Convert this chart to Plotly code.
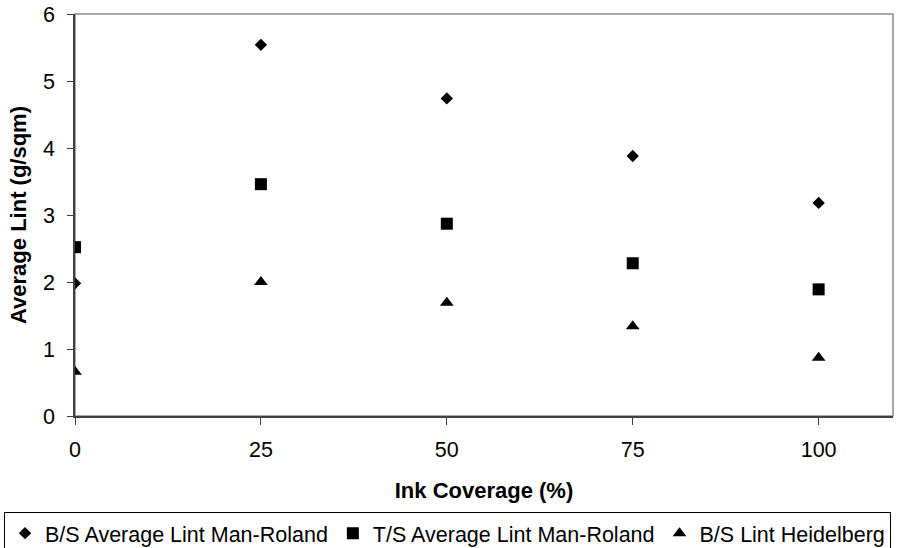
import plotly.graph_objects as go

ink_coverage = [0, 25, 50, 75, 100]
bs_man_roland = [1.98, 5.54, 4.74, 3.88, 3.18]
ts_man_roland = [2.52, 3.46, 2.87, 2.28, 1.89]
bs_heidelberg = [0.66, 2.0, 1.69, 1.34, 0.87]
x_ticks = [0, 25, 50, 75, 100]
y_ticks = [0, 1, 2, 3, 4, 5, 6]

FONT = "Arial, Liberation Sans, sans-serif"

fig = go.Figure()
fig.add_trace(go.Scatter(x=ink_coverage, y=bs_man_roland, mode="markers",
                         name="B/S Average Lint Man-Roland",
                         marker=dict(symbol="diamond", size=9.5, color="black")))
fig.add_trace(go.Scatter(x=ink_coverage, y=ts_man_roland, mode="markers",
                         name="T/S Average Lint Man-Roland",
                         marker=dict(symbol="square", size=12, color="black")))
fig.add_trace(go.Scatter(x=ink_coverage, y=bs_heidelberg, mode="markers",
                         name="B/S Lint Heidelberg",
                         marker=dict(symbol="triangle-up", size=12, color="black")))

fig.add_shape(type="rect", xref="paper", yref="paper", x0=0, y0=0, x1=1, y1=1,
              line=dict(color="#8c8c8c", width=1.5), layer="below")

fig.update_layout(
    width=904, height=548,
    margin=dict(l=75, r=11, t=14, b=132, autoexpand=False),
    paper_bgcolor="white", plot_bgcolor="white",
    font=dict(family=FONT, size=21, color="black"),
    showlegend=True,
    legend=dict(orientation="h", x=-0.0868, y=-0.238, xanchor="left", yanchor="top",
                bordercolor="black", borderwidth=1, bgcolor="white",
                font=dict(size=21.5), itemwidth=30, tracegroupgap=0),
    xaxis=dict(range=[0, 110], tickvals=x_ticks, ticks="outside", ticklen=7,
               tickcolor="#404040", showgrid=False, zeroline=False,
               showline=True, linecolor="#404040", linewidth=1.5,
               ticklabelstandoff=6, automargin=False, tickfont=dict(size=21.5),
               title=dict(text="<b>Ink Coverage (%)</b>", standoff=22,
                          font=dict(size=22))),
    yaxis=dict(range=[0, 6], tickvals=y_ticks, ticks="outside", ticklen=6,
               tickcolor="#404040", showgrid=False, zeroline=False,
               showline=True, linecolor="#404040", linewidth=1.5,
               ticklabelstandoff=8, automargin=False, tickfont=dict(size=21.5),
               title=dict(text="<b>Average Lint (g/sqm)</b>", standoff=10,
                          font=dict(size=22))),
)

# remove the page body's default 8px margin so the figure sits at (0, 0)
fig.write_html("out.html",
               config={"displayModeBar": False},
               post_script="document.body.style.margin='0';document.body.style.overflow='hidden';")
